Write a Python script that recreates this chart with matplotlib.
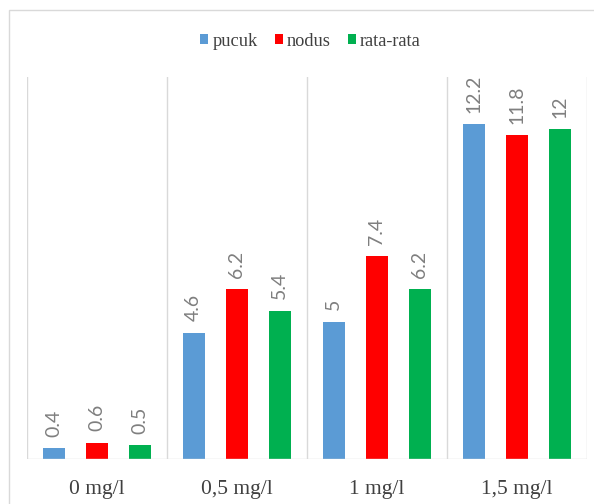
import matplotlib
matplotlib.use("Agg")
import matplotlib.pyplot as plt
import numpy as np
from matplotlib.patches import Rectangle

categories = ["0 mg/l", "0,5 mg/l", "1 mg/l", "1,5 mg/l"]
pucuk = [0.4, 4.6, 5.0, 12.2]
nodus = [0.6, 6.2, 7.4, 11.8]
rata = [0.5, 5.4, 6.2, 12.0]
series_names = ["pucuk", "nodus", "rata-rata"]
label_texts = [["0.4", "4.6", "5", "12.2"], ["0.6", "6.2", "7.4", "11.8"], ["0.5", "5.4", "6.2", "12"]]
colors = ["#5B9BD5", "#FF0000", "#00B050"]

plt.rcParams['font.family'] = ['Liberation Serif', 'DejaVu Serif']

fig = plt.figure(figsize=(5.94, 5.04), dpi=100)
ax = fig.add_axes([26.5/594, 45/504, (587-26.5)/594, (459-77)/504])

# figure border
fig.patches.append(Rectangle((9/594, -0.05), 1.2, (504-10)/504 + 0.05, transform=fig.transFigure,
                             fill=False, edgecolor="#D9D9D9", linewidth=1.0))

x = np.arange(len(categories))
width = 0.157
spacing = 0.307
all_series = [pucuk, nodus, rata]
for i, (vals, c, name) in enumerate(zip(all_series, colors, series_names)):
    pos = x + (i - 1) * spacing
    ax.bar(pos, vals, width=width, color=c, label=name, zorder=3)
    for p, v, t in zip(pos, vals, label_texts[i]):
        ax.annotate(t, (p, v), xytext=(0, 8), textcoords="offset points",
                    rotation=90, ha="center", va="bottom",
                    color="#7F7F7F", fontsize=14, family=["Lato", "DejaVu Sans"])

ax.set_xlim(-0.5, len(categories) - 0.5)
ax.set_ylim(0, 13.9)
for b in np.arange(-0.5, len(categories), 1.0):
    ax.axvline(b, color="#D9D9D9", linewidth=1.0, zorder=1)
for s in ax.spines.values():
    s.set_visible(False)
ax.axhline(0, color="#D9D9D9", linewidth=1.0, zorder=4)
ax.set_yticks([])
ax.set_xticks(x)
ax.set_xticklabels(categories, fontsize=15.5, color="#404040")
ax.tick_params(axis="x", length=0, pad=15)

fig.legend(loc="center", bbox_to_anchor=(310.5/594, 1 - 41/504), ncol=3, frameon=False,
           fontsize=13.2, handlelength=0.44, handleheight=0.44, handletextpad=0.22,
           columnspacing=0.93, labelcolor="#404040")

fig.savefig("out.png", dpi=100)
